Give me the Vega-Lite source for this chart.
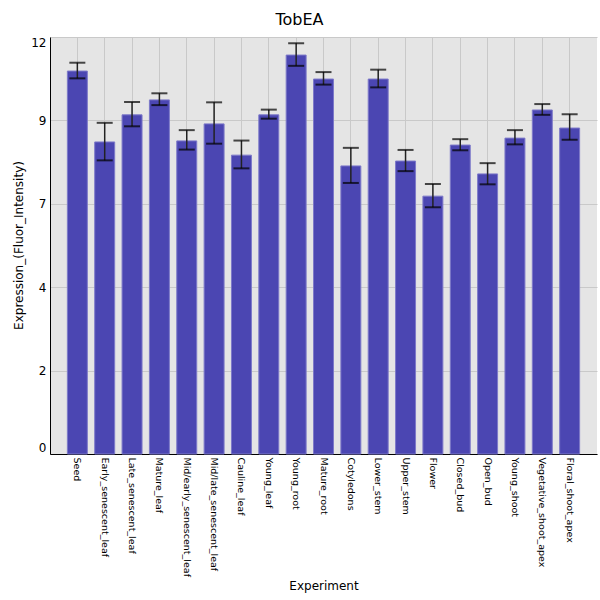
{
  "$schema": "https://vega.github.io/schema/vega-lite/v6.json",
  "description": "TobEA expression by tissue, bars with error bars",
  "autosize": "none",
  "padding": {"left": 50, "top": 37, "right": 3, "bottom": 146},
  "width": 547,
  "height": 417,
  "background": "white",
  "title": {
    "text": "TobEA",
    "fontSize": 16,
    "font": "DejaVu Sans",
    "fontWeight": "normal",
    "anchor": "middle",
    "dx": -24,
    "offset": 8,
    "color": "black"
  },
  "data": {
    "values": [
      {"tissue": "Seed", "value": 11.02, "lo": 10.81, "hi": 11.26},
      {"tissue": "Early_senescent_leaf", "value": 8.98, "lo": 8.45, "hi": 9.53},
      {"tissue": "Late_senescent_leaf", "value": 9.76, "lo": 9.43, "hi": 10.13},
      {"tissue": "Mature_leaf", "value": 10.19, "lo": 10.04, "hi": 10.38},
      {"tissue": "Mid/early_senescent_leaf", "value": 9.01, "lo": 8.76, "hi": 9.32},
      {"tissue": "Mid/late_senescent_leaf", "value": 9.5, "lo": 8.93, "hi": 10.12},
      {"tissue": "Cauline_leaf", "value": 8.6, "lo": 8.22, "hi": 9.02},
      {"tissue": "Young_leaf", "value": 9.76, "lo": 9.65, "hi": 9.91},
      {"tissue": "Young_root", "value": 11.48, "lo": 11.17, "hi": 11.82},
      {"tissue": "Mature_root", "value": 10.79, "lo": 10.63, "hi": 10.99},
      {"tissue": "Cotyledons", "value": 8.29, "lo": 7.8, "hi": 8.81},
      {"tissue": "Lower_stem", "value": 10.79, "lo": 10.55, "hi": 11.06},
      {"tissue": "Upper_stem", "value": 8.43, "lo": 8.14, "hi": 8.75},
      {"tissue": "Flower", "value": 7.42, "lo": 7.1, "hi": 7.77},
      {"tissue": "Closed_bud", "value": 8.89, "lo": 8.74, "hi": 9.06},
      {"tissue": "Open_bud", "value": 8.06, "lo": 7.76, "hi": 8.37},
      {"tissue": "Young_shoot", "value": 9.09, "lo": 8.91, "hi": 9.32},
      {"tissue": "Vegetative_shoot_apex", "value": 9.9, "lo": 9.76, "hi": 10.07},
      {"tissue": "Floral_shoot_apex", "value": 9.38, "lo": 9.04, "hi": 9.78}
    ]
  },
  "encoding": {
    "x": {
      "field": "tissue",
      "type": "nominal",
      "sort": null,
      "title": "Experiment",
      "scale": {"paddingInner": 0.27, "paddingOuter": 0.635},
      "axis": {
        "grid": true,
        "gridColor": "#c9c9c9",
        "ticks": false,
        "domainColor": "black",
        "labelAngle": 90,
        "labelAlign": "left",
        "labelBaseline": "middle",
        "labelFontSize": 9.5,
        "labelPadding": 3,
        "labelColor": "black",
        "labelFont": "DejaVu Sans",
        "titleFont": "DejaVu Sans",
        "titleFontSize": 12,
        "titleFontWeight": "normal",
        "titleColor": "black",
        "titleY": 131,
        "titleBaseline": "middle"
      }
    }
  },
  "layer": [
    {
      "mark": {"type": "bar", "color": "#4b46b2", "stroke": "#7d79c9", "strokeWidth": 1},
      "encoding": {
        "y": {
          "field": "value",
          "type": "quantitative",
          "title": "Expression_(Fluor_Intensity)",
          "scale": {"domain": [0, 12], "nice": false},
          "axis": {
            "values": [0, 2.4, 4.8, 7.2, 9.6, 12],
            "labelExpr": "floor(datum.value)",
            "labelFlush": true,
            "grid": true,
            "gridColor": "#c9c9c9",
            "ticks": false,
            "domainColor": "black",
            "labelFontSize": 12,
            "labelColor": "black",
            "labelFont": "DejaVu Sans",
            "labelPadding": 4,
            "titleFont": "DejaVu Sans",
            "titleFontSize": 12,
            "titleFontWeight": "normal",
            "titleColor": "black",
            "titleX": -32,
            "titleY": 208,
            "titleBaseline": "middle"
          }
        }
      }
    },
    {
      "mark": {"type": "rule", "color": "#222222", "strokeWidth": 1.5},
      "encoding": {
        "y": {"field": "lo", "type": "quantitative"},
        "y2": {"field": "hi"}
      }
    },
    {
      "mark": {"type": "tick", "color": "black", "size": 16, "thickness": 2},
      "encoding": {"y": {"field": "lo", "type": "quantitative"}}
    },
    {
      "mark": {"type": "tick", "color": "black", "size": 16, "thickness": 2},
      "encoding": {"y": {"field": "hi", "type": "quantitative"}}
    }
  ],
  "config": {
    "view": {"fill": "#e5e5e5", "stroke": null}
  }
}
